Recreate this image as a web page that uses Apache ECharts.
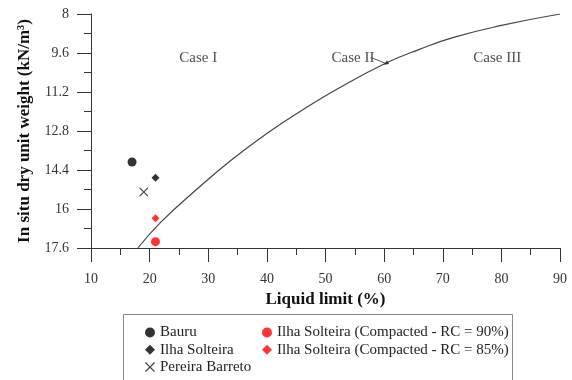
<!DOCTYPE html>
<html>
<head>
<meta charset="utf-8">
<script src="https://cdn.jsdelivr.net/npm/echarts@6/dist/echarts.min.js"></script>
<style>
  html, body { margin: 0; padding: 0; background: #fff; }
  #chart { width: 572px; height: 380px; }
</style>
</head>
<body>
<div id="chart"></div>
<script>
// Soil samples: liquid limit (%) vs in situ dry unit weight (kN/m³)
const bauruLL = [17];
const bauruGd = [14.07];
const ilhaLL = [21];
const ilhaGd = [14.72];
const pereiraLL = [19];
const pereiraGd = [15.3];
const rc90LL = [21];
const rc90Gd = [17.34];
const rc85LL = [21];
const rc85Gd = [16.38];

// Boundary curve separating the collapse cases
const boundaryLL = [18, 22, 28, 34, 40, 46, 52, 60, 66, 72, 80, 90];
const boundaryGd = [17.6, 16.52, 15.2, 13.98, 12.9, 11.95, 11.08, 10.05, 9.45, 8.95, 8.47, 8.0];

// Region labels
const caseNames = ['Case I', 'Case II', 'Case III'];
const caseLL = [28.3, 54.7, 79.3];
const caseGd = [9.82, 9.82, 9.82];

// Leader arrow from the "Case II" label to the curve
const arrowLL = [57.7, 60.3];
const arrowGd = [9.78, 10.03];

const seriesNames = [
  'Bauru',
  'Ilha Solteira',
  'Pereira Barreto',
  'Ilha Solteira (Compacted - RC = 90%)',
  'Ilha Solteira (Compacted - RC = 85%)'
];

const FONT = '"Liberation Serif", "Times New Roman", serif';
const crossPath = 'path://M0,0.9L0.9,0L5,4.1L9.1,0L10,0.9L5.9,5L10,9.1L9.1,10L5,5.9L0.9,10L0,9.1L4.1,5Z';

const pairs = (xs, ys) => xs.map((x, i) => [x, ys[i]]);

const chart = echarts.init(document.getElementById('chart'), null, { renderer: 'canvas' });

// Legend entries are drawn as rich text so the serif face is applied
const legendText = {
  fontFamily: FONT, fontSize: 15, color: '#222', lineHeight: 15,
  rich: { t: { fontFamily: FONT, fontSize: 15, color: '#222', lineHeight: 15 } }
};
const legendFormatter = name => '{t|' + name + '}';

chart.setOption({
  animation: false,
  textStyle: { fontFamily: FONT },
  grid: { left: 91, right: 12, top: 14, bottom: 132 },
  xAxis: {
    type: 'value',
    min: 10, max: 90, interval: 10,
    name: 'Liquid limit (%)',
    nameLocation: 'middle',
    nameGap: 39,
    nameTextStyle: { fontFamily: FONT, fontSize: 17, fontWeight: 'bold', color: '#111', verticalAlign: 'top' },
    axisLine: { onZero: false, lineStyle: { color: '#333', width: 1 } },
    axisTick: { show: true, length: 14, lineStyle: { color: '#333' } },
    minorTick: { show: true, splitNumber: 2, length: 7, lineStyle: { color: '#333' } },
    axisLabel: { margin: 24, fontFamily: FONT, fontSize: 14, color: '#333' },
    splitLine: { show: false }
  },
  yAxis: {
    type: 'value',
    inverse: true,
    min: 8, max: 17.6, interval: 1.6,
    name: 'In situ dry unit weight (kN/m³)',
    nameLocation: 'middle',
    nameGap: 57,
    nameTextStyle: { fontFamily: FONT, fontSize: 17, fontWeight: 'bold', color: '#111' },
    axisLine: { show: true, onZero: false, lineStyle: { color: '#333', width: 1 } },
    axisTick: { show: true, length: 14, lineStyle: { color: '#333' } },
    minorTick: { show: true, splitNumber: 2, length: 7, lineStyle: { color: '#333' } },
    axisLabel: { margin: 22, fontFamily: FONT, fontSize: 14, color: '#333',
      formatter: v => String(Math.round(v * 10) / 10) },
    splitLine: { show: false }
  },
  legend: [
    {
      data: seriesNames.slice(0, 3),
      orient: 'vertical',
      left: 140, top: 320, height: 120,
      itemWidth: 10, itemHeight: 10, itemGap: 2.3,
      formatter: legendFormatter,
      textStyle: legendText,
      selectedMode: false
    },
    {
      data: seriesNames.slice(3),
      orient: 'vertical',
      left: 257, top: 320, height: 120,
      itemWidth: 10, itemHeight: 10, itemGap: 2.3,
      formatter: legendFormatter,
      textStyle: legendText,
      selectedMode: false
    }
  ],
  graphic: [
    {
      type: 'rect',
      shape: { x: 123.5, y: 314.5, width: 389, height: 80 },
      style: { fill: 'none', stroke: '#888', lineWidth: 1 },
      z: -1
    }
  ],
  series: [
    {
      name: 'Boundary',
      type: 'line',
      data: pairs(boundaryLL, boundaryGd),
      smooth: 0.5,
      showSymbol: false,
      lineStyle: { color: '#444', width: 1.2 },
      z: 1
    },
    {
      name: 'Case labels',
      type: 'scatter',
      data: pairs(caseLL, caseGd),
      symbolSize: 0,
      label: {
        show: true,
        position: 'inside',
        formatter: p => caseNames[p.dataIndex],
        fontFamily: FONT, fontSize: 15, color: '#222'
      },
      silent: true
    },
    {
      name: 'Arrow',
      type: 'line',
      data: pairs(arrowLL, arrowGd),
      showSymbol: false,
      lineStyle: { color: '#333', width: 0.8 },
      markPoint: {
        symbol: 'triangle',
        symbolSize: [4, 5],
        symbolRotate: 120,
        data: [{ coord: [arrowLL[1], arrowGd[1]] }],
        itemStyle: { color: '#333' },
        label: { show: false }
      }
    },
    {
      name: seriesNames[0], type: 'scatter', data: pairs(bauruLL, bauruGd),
      symbol: 'circle', symbolSize: 9, itemStyle: { color: '#000' }
    },
    {
      name: seriesNames[1], type: 'scatter', data: pairs(ilhaLL, ilhaGd),
      symbol: 'diamond', symbolSize: 8, itemStyle: { color: '#000' }
    },
    {
      name: seriesNames[2], type: 'scatter', data: pairs(pereiraLL, pereiraGd),
      symbol: crossPath, symbolSize: 9, itemStyle: { color: '#111' }
    },
    {
      name: seriesNames[3], type: 'scatter', data: pairs(rc90LL, rc90Gd),
      symbol: 'circle', symbolSize: 9, itemStyle: { color: '#ff0000' }
    },
    {
      name: seriesNames[4], type: 'scatter', data: pairs(rc85LL, rc85Gd),
      symbol: 'diamond', symbolSize: 8, itemStyle: { color: '#ff0000' }
    }
  ]
});
</script>
</body>
</html>
